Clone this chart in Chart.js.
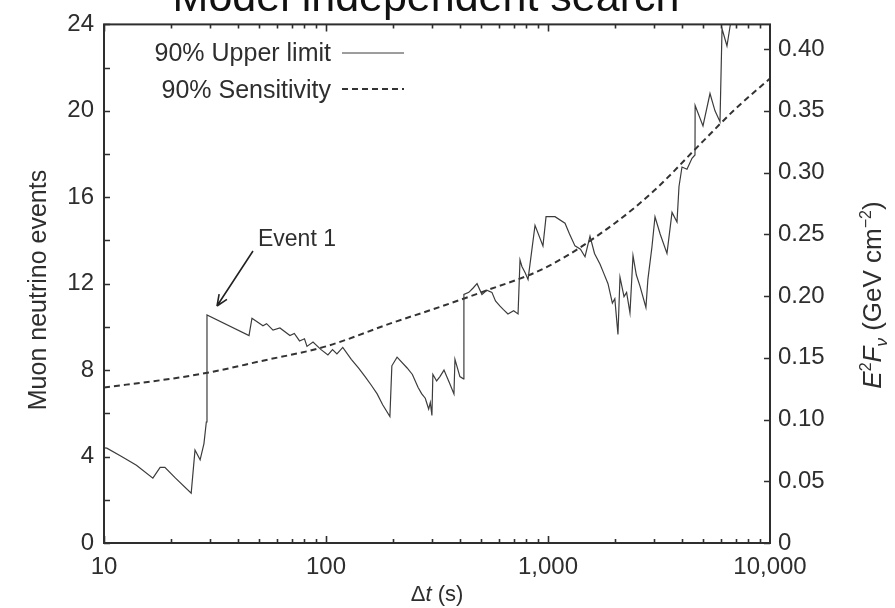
<!DOCTYPE html>
<html>
<head>
<meta charset="utf-8">
<script src="https://cdn.jsdelivr.net/npm/chart.js@4.4.1/dist/chart.umd.min.js"></script>
<style>
  html, body { margin: 0; padding: 0; background: #fff; }
  canvas { display: block; }
</style>
</head>
<body>
<canvas id="chart" width="895" height="608"></canvas>
<script>
const FONT = '"Liberation Sans", Arial, Helvetica, sans-serif';
const INK = '#2e2e2e';

// 90% upper limit on muon neutrino events vs. time window (s)
const ulTime = [10, 10.3, 12, 14, 16.6, 17.9, 18.8, 21, 24.7, 25.7, 27.1, 28.2, 28.9, 29.1,
  45, 46.4, 52, 54, 57.7, 62, 68.8, 72, 76, 80, 82.1, 87.4, 95, 102, 107, 112, 119,
  130, 140, 150, 160, 170, 180, 194, 198, 209, 232, 245, 260, 270, 280, 290, 295, 300, 303,
  315, 326, 340, 360, 377, 381, 401, 416, 418, 440, 460, 479, 504, 530, 559, 580, 608,
  630, 660, 700, 733, 748, 763, 790, 813, 874, 949, 980, 1075, 1193, 1250, 1323, 1400,
  1468, 1546, 1620, 1716, 1780, 1863, 1950, 2000, 2066, 2110, 2200, 2260, 2340, 2415, 2500,
  2594, 2761, 2818, 2939, 3034, 3200, 3435, 3620, 3811, 3891, 4014, 4227, 4453, 4593, 4600,
  4990, 5367, 5652, 5953, 6080, 6400, 6700];
const ulEvents = [4.4, 4.39, 4.0, 3.6, 3.0, 3.5, 3.5, 3.0, 2.3, 4.3, 3.85, 4.6, 5.6, 10.55,
  9.6, 10.4, 10.05, 10.15, 9.85, 9.95, 9.6, 9.7, 9.35, 9.45, 9.1, 9.3, 8.95, 8.7, 8.95, 8.75, 9.05,
  8.5, 8.1, 7.7, 7.3, 6.9, 6.4, 5.85, 8.2, 8.6, 8.1, 7.8, 7.2, 6.9, 6.7, 6.2, 6.5, 5.9, 7.8,
  7.5, 7.7, 8.0, 7.4, 6.9, 8.5, 7.7, 7.6, 11.5, 11.6, 11.8, 12.0, 11.5, 11.7, 11.6, 11.2, 10.96,
  10.8, 10.6, 10.75, 10.6, 13.1, 12.8, 12.5, 12.2, 14.7, 13.75, 15.1, 15.1, 14.8, 14.3, 13.75, 13.6,
  13.25, 14.2, 13.4, 12.9, 12.5, 12.0, 11.1, 11.3, 9.65, 12.3, 11.4, 11.6, 10.65, 13.3, 12.4,
  11.9, 10.9, 12.2, 13.7, 15.1, 14.3, 13.4, 15.3, 14.85, 16.5, 17.4, 17.3, 17.8, 17.96, 20.25,
  19.3, 20.8, 20.0, 19.5, 23.8, 23.0, 24.3];

// 90% sensitivity (median expectation)
const sensTime = [10, 20, 30, 50, 100, 200, 300, 500, 1000, 2000, 3000, 5000, 7000, 10000];
const sensEvents = [7.2, 7.6, 7.9, 8.4, 9.1, 10.2, 10.8, 11.6, 12.8, 14.8, 16.3, 18.6, 20.1, 21.5];

const xTickValues = [10, 100, 1000, 10000];
const fluxTickValues = [0, 0.05, 0.10, 0.15, 0.20, 0.25, 0.30, 0.35, 0.40];

const titleText = 'Model independent search';
const eventLabel = 'Event 1';
const eventIndex = ulTime.indexOf(29.1);

const upperLimit = ulTime.map((t, i) => ({ x: t, y: ulEvents[i] }));
const sensitivity = sensTime.map((t, i) => ({ x: t, y: sensEvents[i] }));

// inward tick marks and the closed frame
const frameTicks = {
  id: 'frameTicks',
  afterDraw(chart) {
    const { ctx, chartArea: a, scales: { x, y, y2 } } = chart;
    ctx.save();
    ctx.strokeStyle = INK;
    ctx.lineWidth = 1.6;
    ctx.beginPath();
    for (let d = 10; d < 10000; d *= 10) {
      for (let m = 1; m <= 9; m++) {
        const px = Math.round(x.getPixelForValue(d * m)) + 0.5;
        const len = m === 1 ? 7 : 4;
        ctx.moveTo(px, a.bottom); ctx.lineTo(px, a.bottom - len);
        ctx.moveTo(px, a.top); ctx.lineTo(px, a.top + len);
      }
    }
    for (let v = 0; v <= 24; v += 2) {
      const py = Math.round(y.getPixelForValue(v)) + 0.5;
      ctx.moveTo(a.left, py); ctx.lineTo(a.left + 6, py);
    }
    fluxTickValues.forEach((v) => {
      const py = Math.round(y2.getPixelForValue(v)) + 0.5;
      ctx.moveTo(a.right, py); ctx.lineTo(a.right - 6, py);
    });
    ctx.stroke();
    ctx.lineWidth = 2;
    ctx.strokeRect(a.left, a.top, a.right - a.left, a.bottom - a.top);
    ctx.restore();
  }
};

// title, legend, annotation and axis titles
const decorations = {
  id: 'decorations',
  afterDraw(chart) {
    const { ctx, scales: { x, y } } = chart;
    const ds = chart.data.datasets;
    ctx.save();
    ctx.fillStyle = '#111';
    ctx.font = `43px ${FONT}`;
    ctx.textAlign = 'center';
    ctx.textBaseline = 'alphabetic';
    ctx.fillText(titleText, 426, 11);

    // legend: text then sample line
    ctx.fillStyle = INK;
    ctx.font = `25px ${FONT}`;
    ctx.textAlign = 'right';
    [[61, 53], [98, 89]].forEach(([base, ly], i) => {
      ctx.fillText(ds[i].label, 331, base);
      ctx.save();
      ctx.strokeStyle = ds[i].borderColor;
      ctx.lineWidth = ds[i].borderWidth;
      ctx.setLineDash(ds[i].borderDash || []);
      ctx.beginPath();
      ctx.moveTo(342, ly); ctx.lineTo(404, ly);
      ctx.stroke();
      ctx.restore();
    });

    // Event 1 arrow
    const ex = x.getPixelForValue(ulTime[eventIndex]);
    const ey = y.getPixelForValue(ulEvents[eventIndex]);
    const tip = [ex + 10, ey - 9];
    const tail = [ex + 46, ey - 64];
    ctx.strokeStyle = '#222';
    ctx.lineWidth = 1.6;
    ctx.beginPath();
    ctx.moveTo(tail[0], tail[1]); ctx.lineTo(tip[0], tip[1]);
    const ang = Math.atan2(tip[1] - tail[1], tip[0] - tail[0]);
    [0.4, -0.4].forEach((da) => {
      ctx.moveTo(tip[0], tip[1]);
      ctx.lineTo(tip[0] - 12 * Math.cos(ang + da), tip[1] - 12 * Math.sin(ang + da));
    });
    ctx.stroke();
    ctx.font = `23px ${FONT}`;
    ctx.textAlign = 'left';
    ctx.fillText(eventLabel, ex + 51, ey - 69);

    // x title: Δt (s)
    const parts = [['Δ', ''], ['t', 'italic '], [' (s)', '']];
    let w = 0;
    parts.forEach(([s, st]) => { ctx.font = `${st}22px ${FONT}`; w += ctx.measureText(s).width; });
    let cx = 437 - w / 2;
    parts.forEach(([s, st]) => {
      ctx.font = `${st}22px ${FONT}`;
      ctx.fillText(s, cx, 601);
      cx += ctx.measureText(s).width;
    });

    // left y title
    ctx.save();
    ctx.translate(46, 290);
    ctx.rotate(-Math.PI / 2);
    ctx.textAlign = 'center';
    ctx.font = `25px ${FONT}`;
    ctx.fillText('Muon neutrino events', 0, 0);
    ctx.restore();

    // right y title: E²F_ν (GeV cm⁻²)
    const rt = [
      ['E', 'italic ', 26, 0], ['2', '', 16, -10], ['F', 'italic ', 26, 0], ['ν', 'italic ', 17, 6],
      [' (GeV cm', '', 26, 0], ['−2', '', 16, -10], [')', '', 26, 0]
    ];
    let rw = 0;
    rt.forEach(([s, st, sz]) => { ctx.font = `${st}${sz}px ${FONT}`; rw += ctx.measureText(s).width; });
    ctx.save();
    ctx.translate(881, 295);
    ctx.rotate(-Math.PI / 2);
    ctx.textAlign = 'left';
    let rx = -rw / 2;
    rt.forEach(([s, st, sz, dy]) => {
      ctx.font = `${st}${sz}px ${FONT}`;
      ctx.fillText(s, rx, dy);
      rx += ctx.measureText(s).width;
    });
    ctx.restore();
    ctx.restore();
  }
};

const tickFont = { family: FONT, size: 24 };

new Chart(document.getElementById('chart'), {
  type: 'line',
  data: {
    datasets: [
      {
        label: '90% Upper limit',
        data: upperLimit,
        borderColor: '#3c3c3c',
        borderWidth: 1.2,
        pointRadius: 0,
        tension: 0,
        yAxisID: 'y'
      },
      {
        label: '90% Sensitivity',
        data: sensitivity,
        borderColor: '#333',
        borderWidth: 2,
        borderDash: [6, 4],
        pointRadius: 0,
        cubicInterpolationMode: 'monotone',
        yAxisID: 'y'
      }
    ]
  },
  options: {
    responsive: false,
    animation: false,
    layout: { padding: { top: 18, left: 0, right: 0, bottom: 0 } },
    plugins: {
      legend: { display: false },
      tooltip: { enabled: false },
      title: { display: false }
    },
    scales: {
      x: {
        type: 'logarithmic',
        position: 'bottom',
        min: 10,
        max: 10000,
        grid: { display: false, drawTicks: false },
        border: { display: false },
        afterBuildTicks: (s) => { s.ticks = xTickValues.map((v) => ({ value: v })); },
        afterFit: (s) => { s.height = 65; },
        ticks: {
          autoSkip: false,
          maxRotation: 0,
          padding: 10,
          color: INK,
          font: tickFont,
          callback: (v) => Number(v).toLocaleString('en-US')
        }
      },
      y: {
        position: 'left',
        min: 0,
        max: 24,
        grid: { display: false, drawTicks: false },
        border: { display: false },
        afterFit: (s) => { s.width = 104; },
        ticks: { stepSize: 4, padding: 10, color: INK, font: tickFont }
      },
      y2: {
        position: 'right',
        min: 0,
        max: 0.42,
        grid: { display: false, drawTicks: false },
        border: { display: false },
        afterBuildTicks: (s) => { s.ticks = fluxTickValues.map((v) => ({ value: v })); },
        afterFit: (s) => { s.width = 125; },
        ticks: {
          padding: 8,
          color: INK,
          font: tickFont,
          callback: (v) => (v === 0 ? '0' : Number(v).toFixed(2))
        }
      }
    }
  },
  plugins: [frameTicks, decorations]
});
</script>
</body>
</html>
